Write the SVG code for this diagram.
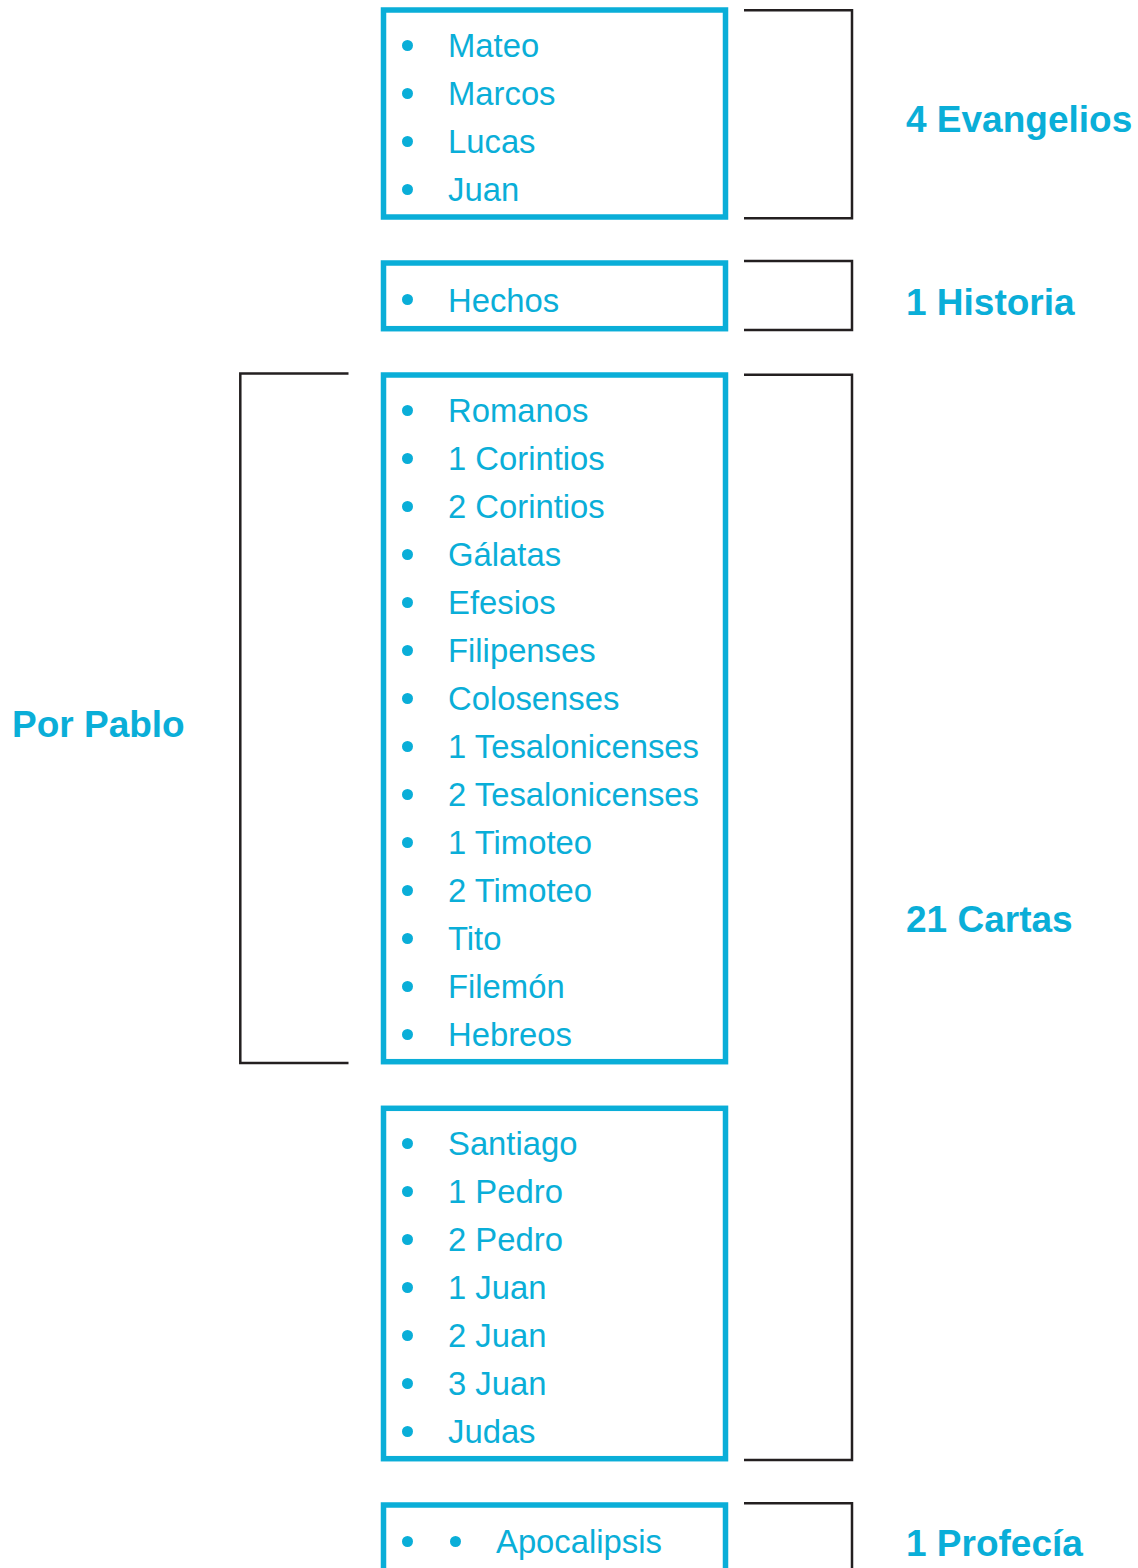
<svg xmlns="http://www.w3.org/2000/svg" width="1138" height="1568" viewBox="0 0 1138 1568">
<style>
.box{fill:none;stroke:#0aaed8;stroke-width:5.5}
.br{fill:none;stroke:#231f20;stroke-width:2.5}
.t{font-family:"Liberation Sans",Arial,sans-serif;font-size:32.8px;fill:#0aaed8}
.h{font-family:"Liberation Sans",Arial,sans-serif;font-size:37px;font-weight:bold;fill:#0aaed8}
.d{fill:#0aaed8}
</style>
<rect width="1138" height="1568" fill="#fff"/>
<g id="connectors">
<path class="br" d="M744 10.3H852V218.3H744"/>
<path class="br" d="M744 261H852V330H744"/>
<path class="br" d="M744 374.7H852V1460H744"/>
<path class="br" d="M744 1503.3H852V1575"/>
<path class="br" d="M348.5 373.5H240.3V1063H348.5"/>
</g>
<g id="evangelios">
<rect class="box" x="383.5" y="10" width="342" height="207"/>
<circle class="d" cx="407.5" cy="45.5" r="5.5"/><text class="t" x="448" y="57">Mateo</text>
<circle class="d" cx="407.5" cy="93.5" r="5.5"/><text class="t" x="448" y="105">Marcos</text>
<circle class="d" cx="407.5" cy="141.5" r="5.5"/><text class="t" x="448" y="153">Lucas</text>
<circle class="d" cx="407.5" cy="189.5" r="5.5"/><text class="t" x="448" y="201">Juan</text>
</g>
<g id="historia">
<rect class="box" x="383.5" y="263" width="342" height="65.7"/>
<circle class="d" cx="407.5" cy="299.5" r="5.5"/><text class="t" x="448" y="311.5">Hechos</text>
</g>
<g id="pablo">
<rect class="box" x="383.5" y="375" width="342" height="686.7"/>
<circle class="d" cx="407.5" cy="410.5" r="5.5"/><text class="t" x="448" y="422">Romanos</text>
<circle class="d" cx="407.5" cy="458.5" r="5.5"/><text class="t" x="448" y="470">1 Corintios</text>
<circle class="d" cx="407.5" cy="506.5" r="5.5"/><text class="t" x="448" y="518">2 Corintios</text>
<circle class="d" cx="407.5" cy="554.5" r="5.5"/><text class="t" x="448" y="566">Gálatas</text>
<circle class="d" cx="407.5" cy="602.5" r="5.5"/><text class="t" x="448" y="614">Efesios</text>
<circle class="d" cx="407.5" cy="650.5" r="5.5"/><text class="t" x="448" y="662">Filipenses</text>
<circle class="d" cx="407.5" cy="698.5" r="5.5"/><text class="t" x="448" y="710">Colosenses</text>
<circle class="d" cx="407.5" cy="746.5" r="5.5"/><text class="t" x="448" y="758">1 Tesalonicenses</text>
<circle class="d" cx="407.5" cy="794.5" r="5.5"/><text class="t" x="448" y="806">2 Tesalonicenses</text>
<circle class="d" cx="407.5" cy="842.5" r="5.5"/><text class="t" x="448" y="854">1 Timoteo</text>
<circle class="d" cx="407.5" cy="890.5" r="5.5"/><text class="t" x="448" y="902">2 Timoteo</text>
<circle class="d" cx="407.5" cy="938.5" r="5.5"/><text class="t" x="448" y="950">Tito</text>
<circle class="d" cx="407.5" cy="986.5" r="5.5"/><text class="t" x="448" y="998">Filemón</text>
<circle class="d" cx="407.5" cy="1034.5" r="5.5"/><text class="t" x="448" y="1046">Hebreos</text>
</g>
<g id="generales">
<rect class="box" x="383.5" y="1108.3" width="342" height="350.4"/>
<circle class="d" cx="407.5" cy="1143.5" r="5.5"/><text class="t" x="448" y="1155">Santiago</text>
<circle class="d" cx="407.5" cy="1191.5" r="5.5"/><text class="t" x="448" y="1203">1 Pedro</text>
<circle class="d" cx="407.5" cy="1239.5" r="5.5"/><text class="t" x="448" y="1251">2 Pedro</text>
<circle class="d" cx="407.5" cy="1287.5" r="5.5"/><text class="t" x="448" y="1299">1 Juan</text>
<circle class="d" cx="407.5" cy="1335.5" r="5.5"/><text class="t" x="448" y="1347">2 Juan</text>
<circle class="d" cx="407.5" cy="1383.5" r="5.5"/><text class="t" x="448" y="1395">3 Juan</text>
<circle class="d" cx="407.5" cy="1431.5" r="5.5"/><text class="t" x="448" y="1443">Judas</text>
</g>
<g id="profecia">
<rect class="box" x="383.5" y="1505" width="342" height="100"/>
<circle class="d" cx="407.5" cy="1541.5" r="5.5"/>
<circle class="d" cx="455.5" cy="1541.5" r="5.5"/><text class="t" x="496" y="1553">Apocalipsis</text>
</g>
<g id="labels">
<text class="h" x="906" y="132">4 Evangelios</text>
<text class="h" x="906" y="315">1 Historia</text>
<text class="h" x="906" y="932">21 Cartas</text>
<text class="h" x="906" y="1556">1 Profecía</text>
<text class="h" x="12" y="737">Por Pablo</text>
</g>
</svg>
